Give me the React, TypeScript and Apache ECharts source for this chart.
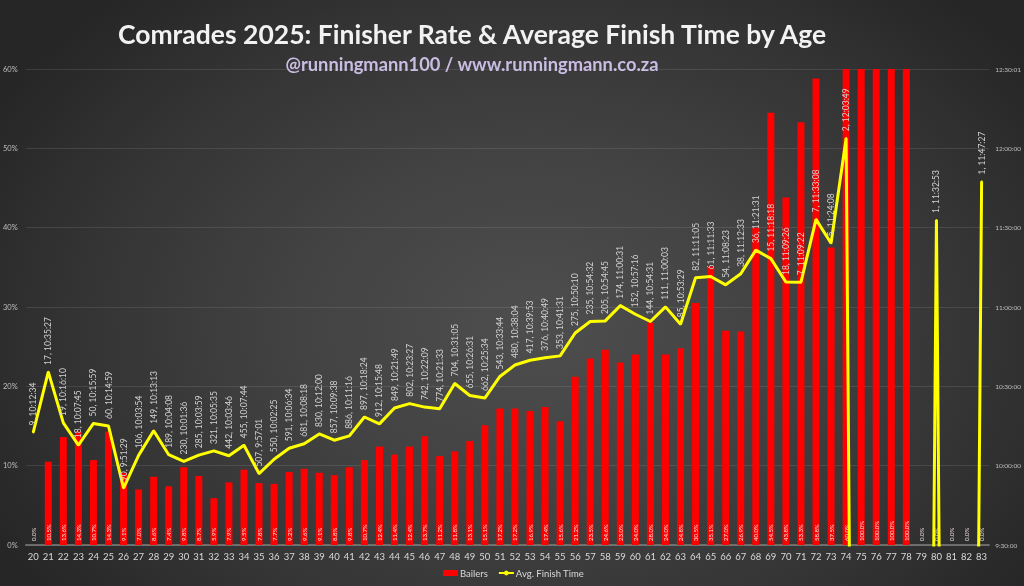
import React, { useEffect, useRef } from "react";
import * as echarts from "echarts";

const ages = [
  "20","21","22","23","24","25","26","27","28","29","30","31","32","33","34","35",
  "36","37","38","39","40","41","42","43","44","45","46","47","48","49","50","51",
  "52","53","54","55","56","57","58","59","60","61","62","63","64","65","66","67",
  "68","69","70","71","72","73","74","75","76","77","78","79","80","81","82","83",
];

// Bailers (% of starters who did not finish)
const bailers = [
  0.0, 10.5, 13.6, 14.3, 10.7, 14.3, 9.1, 7.0, 8.6, 7.4, 9.8, 8.7, 5.9, 7.9, 9.5, 7.8,
  7.7, 9.2, 9.6, 9.1, 8.8, 9.8, 10.7, 12.4, 11.4, 12.4, 13.7, 11.2, 11.8, 13.1, 15.1, 17.2,
  17.2, 16.9, 17.4, 15.6, 21.2, 23.5, 24.6, 23.0, 24.0, 28.0, 24.0, 24.8, 30.5, 35.1, 27.0, 26.9,
  40.0, 54.5, 43.8, 53.3, 58.8, 37.5, 60.0, 100.0, 100.0, 100.0, 100.0, 0.0, 0.0, 0.0, 0.0, 0.0,
];

// Finisher counts (0 = no finishers)
const finishers = [
  9, 17, 19, 18, 50, 60, 90, 106, 149, 189, 230, 285, 321, 442, 455, 507,
  550, 591, 681, 830, 857, 886, 897, 912, 849, 802, 742, 774, 704, 655, 662, 543,
  480, 417, 376, 353, 275, 235, 205, 174, 152, 144, 111, 85, 82, 61, 54, 38,
  36, 15, 18, 7, 7, 5, 2, 0, 0, 0, 0, 0, 1, 0, 0, 1,
];

// Average finish time ("" = no finishers, plotted as 0)
const avgTimes = [
  "10:12:34", "10:35:27", "10:16:10", "10:07:45", "10:15:59", "10:14:59", "9:51:29", "10:03:54",
  "10:13:13", "10:04:08", "10:01:36", "10:03:59", "10:05:35", "10:03:46", "10:07:44", "9:57:01",
  "10:02:25", "10:06:34", "10:08:18", "10:12:00", "10:09:38", "10:11:16", "10:18:24", "10:15:48",
  "10:21:49", "10:23:27", "10:22:09", "10:21:33", "10:31:05", "10:26:31", "10:25:34", "10:33:44",
  "10:38:04", "10:39:53", "10:40:49", "10:41:31", "10:50:10", "10:54:32", "10:54:45", "11:00:31",
  "10:57:16", "10:54:31", "11:00:03", "10:53:29", "11:11:05", "11:11:33", "11:08:23", "11:12:33",
  "11:21:31", "11:18:18", "11:09:26", "11:09:22", "11:33:08", "11:24:08", "12:03:49", "",
  "", "", "", "", "11:32:53", "", "", "11:47:27",
];

const leftTicks = ["0%", "10%", "20%", "30%", "40%", "50%", "60%"];
const rightTicks = ["9:30:00", "10:00:00", "10:30:00", "11:00:00", "11:30:00", "12:00:00", "12:30:01"];

const toSeconds = (t: string) => {
  if (!t) return 0;
  const [h, m, s] = t.split(":").map(Number);
  return h * 3600 + m * 60 + s;
};

const FONT = "Lato, 'Open Sans', sans-serif";

export default function App() {
  const ref = useRef<HTMLDivElement>(null);

  useEffect(() => {
    if (!ref.current) return;
    const chart = echarts.init(ref.current, undefined, { renderer: "svg" });
    const timeSecs = avgTimes.map(toSeconds);
    const rMin = 9.5 * 3600;
    const rStep = 1800;

    chart.setOption({
      animation: false,
      backgroundColor: "transparent",
      textStyle: { fontFamily: FONT },
      title: [
        {
          text: "Comrades 2025: Finisher Rate & Average Finish Time by Age",
          left: 467,
          top: 15,
          textAlign: "center",
          textStyle: { color: "#f2f2f2", fontSize: 26.5, fontWeight: "bold", fontFamily: FONT },
        },
        {
          text: "@runningmann100 / www.runningmann.co.za",
          left: 467,
          top: 50,
          textAlign: "center",
          textStyle: { color: "#c9bde3", fontSize: 18.3, fontWeight: "bold", fontFamily: FONT },
        },
      ],
      legend: {
        bottom: 3,
        left: 438,
        itemWidth: 15,
        itemHeight: 6,
        itemGap: 10,
        textStyle: { color: "#d9d9d9", fontSize: 9.5, fontFamily: FONT, padding: [0, 0, 0, -3] },
        data: [
          { name: "Bailers", icon: "rect" },
          { name: "Avg. Finish Time" },
        ],
      },
      grid: { left: 25.5, right: 33.5, top: 69, bottom: 41, containLabel: false },
      xAxis: {
        type: "category",
        data: ages,
        axisLine: { lineStyle: { color: "#7f7f7f", width: 1.5 } },
        axisTick: { show: false },
        axisLabel: { color: "#d9d9d9", fontSize: 9.5, margin: 6, interval: 0, fontFamily: FONT },
      },
      yAxis: [
        {
          type: "value",
          min: 0,
          max: 60,
          interval: 10,
          axisLabel: {
            color: "#bfbfbf",
            fontSize: 7.5,
            margin: 8,
            formatter: (v: number) => leftTicks[Math.round(v / 10)] ?? "",
          },
          axisLine: { show: false },
          axisTick: { show: false },
          splitLine: { lineStyle: { color: "rgba(255,255,255,0.1)", width: 1 } },
        },
        {
          type: "value",
          position: "right",
          min: rMin,
          max: rMin + 6 * rStep,
          interval: rStep,
          axisLabel: {
            color: "#bfbfbf",
            fontSize: 6.5,
            margin: 6,
            formatter: (v: number) => rightTicks[Math.round((v - rMin) / rStep)] ?? "",
          },
          axisLine: { show: false },
          axisTick: { show: false },
          splitLine: { show: false },
        },
      ],
      series: [
        {
          name: "Bailers",
          type: "bar",
          data: bailers,
          barWidth: 7,
          clip: true,
          itemStyle: { color: "#ff0000" },
          label: {
            show: true,
            position: "insideBottom",
            rotate: 90,
            align: "left",
            verticalAlign: "middle",
            distance: 4,
            color: "#f4e4e4",
            fontSize: 6,
            fontFamily: FONT,
            formatter: (p: any) => `${Number(p.value).toFixed(1)}%`,
          },
          z: 2,
        },
        {
          name: "Avg. Finish Time",
          type: "line",
          yAxisIndex: 1,
          data: timeSecs,
          clip: true,
          symbol: "circle",
          symbolSize: 2,
          showSymbol: true,
          lineStyle: { color: "#ffff00", width: 3 },
          itemStyle: { color: "#ffff00" },
          label: {
            show: true,
            position: "top",
            rotate: 90,
            align: "left",
            verticalAlign: "middle",
            distance: 6,
            color: "#d0d0d0",
            fontSize: 8.5,
            fontFamily: FONT,
            formatter: (p: any) => {
              const i = p.dataIndex;
              if (!avgTimes[i]) return "";
              return `${finishers[i]}, ${avgTimes[i]}`;
            },
          },
          z: 3,
        },
      ],
    });

    return () => chart.dispose();
  }, []);

  return (
    <div
      style={{
        position: "fixed",
        left: 0,
        top: 0,
        width: 1024,
        height: 586,
        background:
          "radial-gradient(ellipse 60% 75% at 52% 55%, #4e4e4e 0%, #424242 40%, #333333 75%, #262626 100%)",
      }}
    >
      <div ref={ref} style={{ width: 1024, height: 586 }} />
    </div>
  );
}
